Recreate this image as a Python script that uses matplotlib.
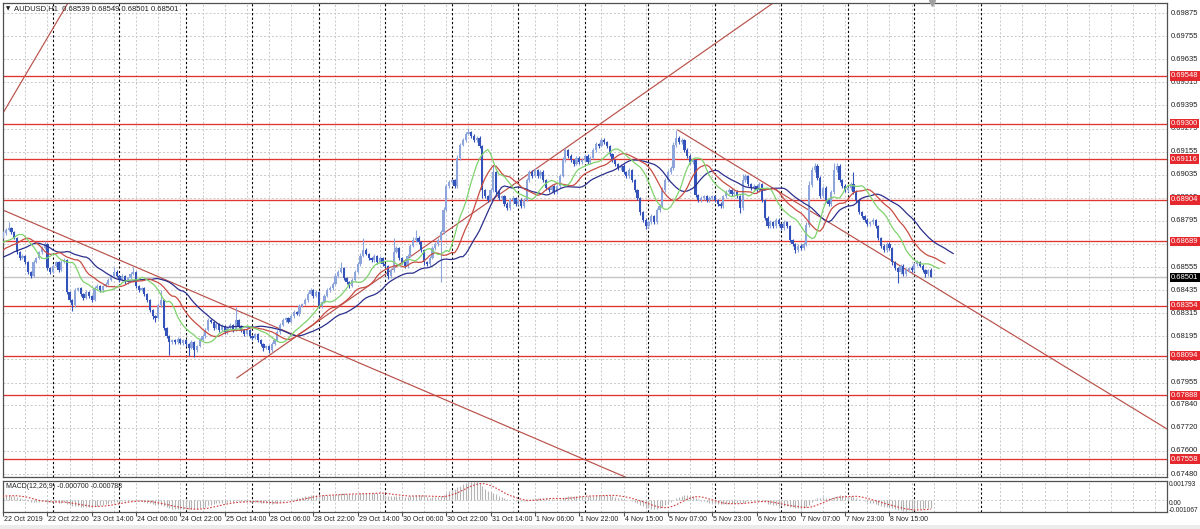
import numpy as np
import pandas as pd
import matplotlib
matplotlib.use("Agg")
import matplotlib.pyplot as plt

plt.rcParams['font.family'] = ['Liberation Sans', 'DejaVu Sans']

# ---------------- data (prices in points, 1 point = 0.00001) ----------------
POINT = 1e-5
pre_close_pts = [68540, 68560, 68530, 68570, 68600, 68580, 68610, 68640, 68620, 68650,
                 68660, 68640, 68680, 68700, 68690, 68710, 68730, 68700, 68720, 68710]

close_pts = [
    68732, 68748, 68758, 68737, 68706, 68633, 68602, 68613, 68581, 68530,
    68509, 68581, 68602, 68633, 68654, 68675, 68550, 68530, 68561, 68581,
    68540, 68581, 68592, 68426, 68384, 68358, 68436, 68446, 68415, 68394,
    68426, 68405, 68384, 68446, 68457, 68436, 68457, 68467, 68488, 68509,
    68530, 68509, 68488, 68509, 68477, 68498, 68519, 68530, 68457, 68436,
    68446, 68415, 68384, 68332, 68301, 68290, 68358, 68384, 68239, 68197,
    68166, 68176, 68166, 68181, 68161, 68176, 68155, 68135, 68166, 68124,
    68145, 68176, 68197, 68228, 68280, 68270, 68239, 68259, 68228, 68249,
    68218, 68239, 68254, 68228, 68280, 68249, 68228, 68207, 68228, 68197,
    68187, 68207, 68176, 68155, 68135, 68145, 68124, 68155, 68176, 68218,
    68254, 68280, 68290, 68270, 68301, 68322, 68311, 68353, 68363, 68384,
    68415, 68436, 68405, 68426, 68353, 68374, 68405, 68436, 68446, 68467,
    68509, 68530, 68550, 68498, 68477, 68457, 68488, 68530, 68571, 68613,
    68644, 68623, 68602, 68592, 68613, 68581, 68602, 68571, 68561, 68509,
    68540, 68633, 68654, 68602, 68581, 68561, 68613, 68665, 68696, 68706,
    68685, 68644, 68581, 68571, 68602, 68654, 68675, 68696, 68737, 68852,
    68976, 68997, 69007, 68976, 69122, 69189, 69215, 69246, 69257, 69236,
    69215, 69226, 69184, 68955, 68924, 68904, 68955, 69049, 68945, 68914,
    68924, 68883, 68862, 68904, 68914, 68883, 68904, 68872, 68904, 69007,
    69049, 69028, 69059, 69028, 69049, 69007, 68966, 68955, 68976, 68945,
    68976, 69028, 69111, 69163, 69132, 69111, 69091, 69122, 69101, 69111,
    69132, 69101, 69122, 69163, 69194, 69184, 69215, 69205, 69184, 69142,
    69111, 69091, 69070, 69080, 69049, 69028, 69059, 69007, 68955, 68914,
    68841, 68800, 68768, 68789, 68820, 68789, 68852, 68872, 68955, 69007,
    69049, 69070, 69189, 69226, 69205, 69215, 69163, 69132, 69101, 69111,
    68930, 68904, 68914, 68924, 68904, 68914, 68924, 68904, 68883, 68872,
    68924, 68945, 68955, 68935, 68945, 68924, 68862, 69007, 69028, 68987,
    68966, 68976, 68955, 68987, 68904, 68810, 68768, 68789, 68768, 68800,
    68779, 68758, 68789, 68768, 68696, 68675, 68644, 68665, 68654, 68675,
    68774, 68981, 69059, 69080, 69018, 68924, 68966, 68904, 68883, 68945,
    69059, 69080, 69007, 68976, 68955, 68966, 68987, 68945, 68904, 68841,
    68820, 68800, 68779, 68789, 68800, 68768, 68706, 68665, 68644, 68675,
    68654, 68581, 68550, 68530, 68561, 68519, 68540, 68550, 68540, 68571,
    68581, 68561, 68540, 68519, 68539, 68501]

upper_wick_pts = [
    8, 12, 31, 6, 5, 4, 7, 10, 5, 6,   4, 9, 6, 8, 10, 15, 5, 6, 9, 7,
    6, 10, 8, 4, 5, 6, 12, 8, 6, 5,    9, 6, 5, 10, 8, 6, 7, 9, 8, 6,
    25, 8, 6, 9, 7, 6, 10, 25, 4, 6,   8, 5, 4, 6, 5, 7, 10, 52, 5, 4,
    6, 8, 5, 9, 6, 7, 5, 4, 8, 5,      7, 9, 8, 10, 12, 6, 5, 9, 6, 8,
    5, 7, 9, 6, 68, 6, 5, 7, 8, 5,     6, 8, 5, 4, 6, 7, 5, 9, 8, 10,
    8, 9, 6, 7, 10, 8, 6, 9, 7, 10,    12, 9, 6, 8, 5, 7, 9, 8, 10, 12,
    14, 10, 31, 6, 5, 7, 9, 12, 10, 14, 62, 8, 6, 7, 10, 6, 9, 7, 5, 6,
    8, 73, 10, 6, 7, 5, 9, 12, 14, 42, 8, 6, 5, 7, 9, 10, 8, 12, 10, 15,
    12, 10, 8, 6, 14, 12, 10, 9, 21, 7, 8, 10, 9, 6, 8, 7, 10, 36, 6, 8,
    7, 6, 9, 8, 10, 7, 6, 9, 8, 12,    10, 8, 12, 7, 9, 8, 6, 7, 9, 6,
    8, 10, 14, 12, 8, 9, 7, 10, 8, 9,  10, 8, 9, 12, 11, 8, 11, 9, 7, 6,
    8, 7, 6, 9, 8, 7, 10, 6, 5, 7,     6, 5, 8, 9, 10, 7, 12, 9, 14, 12,
    10, 12, 16, 41, 10, 12, 8, 9, 10, 8, 7, 6, 9, 8, 7, 10, 8, 6, 7, 9,
    8, 10, 9, 7, 8, 12, 6, 31, 10, 8,  7, 9, 8, 10, 6, 5, 8, 9, 7, 10,
    8, 7, 9, 6, 5, 7, 6, 9, 8, 10,     14, 20, 16, 15, 10, 8, 12, 9, 7, 10,
    36, 15, 10, 8, 9, 7, 12, 60, 8, 6, 5, 7, 9, 8, 10, 6, 5, 7, 9, 8,
    10, 6, 8, 7, 9, 10, 8, 7, 9, 12,   10, 8, 9, 7, 8, 10]

lower_wick_pts = [
    6, 8, 5, 9, 7, 10, 8, 6, 9, 12,    11, 5, 7, 6, 8, 5, 9, 12, 6, 8,
    10, 6, 5, 9, 12, 31, 8, 7, 10, 9,  6, 8, 12, 7, 6, 9, 8, 5, 7, 6,
    8, 7, 9, 6, 10, 8, 7, 5, 9, 8,     6, 10, 9, 12, 14, 20, 6, 8, 10, 12,
    68, 9, 8, 10, 7, 9, 12, 40, 8, 36, 8, 6, 7, 9, 5, 8, 10, 7, 9, 6,
    8, 10, 7, 9, 6, 8, 9, 10, 7, 8,    9, 7, 10, 12, 15, 8, 15, 9, 7, 6,
    8, 7, 9, 6, 8, 10, 7, 9, 6, 5,     8, 7, 9, 6, 12, 8, 7, 6, 9, 8,
    7, 6, 8, 10, 9, 12, 8, 7, 6, 9,    8, 7, 10, 9, 8, 10, 7, 9, 8, 15,
    10, 8, 7, 9, 8, 12, 10, 7, 8, 9,   10, 12, 14, 9, 8, 7, 8, 9, 219, 10,
    8, 9, 10, 12, 8, 9, 7, 8, 6, 9,    8, 10, 9, 40, 12, 10, 8, 9, 10, 8,
    9, 10, 12, 8, 9, 10, 8, 12, 9, 7,  8, 9, 7, 10, 8, 9, 12, 10, 8, 9,
    10, 8, 7, 9, 10, 8, 9, 7, 8, 9,    8, 10, 9, 7, 8, 9, 7, 8, 9, 10,
    8, 9, 10, 8, 9, 10, 8, 9, 10, 12,  14, 12, 15, 10, 9, 12, 8, 9, 7, 8,
    9, 8, 10, 8, 9, 10, 8, 9, 10, 8,   12, 10, 9, 8, 10, 9, 8, 10, 9, 12,
    9, 8, 10, 9, 8, 10, 25, 8, 9, 10,  8, 9, 10, 8, 9, 12, 10, 9, 8, 10,
    9, 8, 10, 9, 12, 10, 14, 12, 10, 12, 10, 9, 8, 10, 12, 9, 8, 10, 12, 9,
    8, 10, 9, 8, 10, 9, 8, 10, 9, 12,  10, 9, 8, 10, 9, 12, 10, 9, 8, 10,
    12, 14, 10, 60, 12, 10, 9, 8, 10, 9, 10, 8, 9, 15, 10, 0]

level_prices = [0.69548, 0.69300, 0.69116, 0.68904, 0.68689, 0.68354, 0.68094, 0.67888, 0.67558]
bid_price = 0.68501
price_grid_labels = ["0.69875", "0.69755", "0.69635", "0.69515", "0.69395", "0.69275", "0.69155",
                     "0.69035", "0.68915", "0.68795", "0.68675", "0.68555", "0.68435", "0.68315",
                     "0.68195", "0.68075", "0.67955", "0.67840", "0.67720", "0.67600", "0.67480"]
time_labels = ["22 Oct 2019", "22 Oct 22:00", "23 Oct 14:00", "24 Oct 06:00", "24 Oct 22:00",
               "25 Oct 14:00", "28 Oct 06:00", "28 Oct 22:00", "29 Oct 14:00", "30 Oct 06:00",
               "30 Oct 22:00", "31 Oct 14:00", "1 Nov 06:00", "1 Nov 22:00", "4 Nov 15:00",
               "5 Nov 07:00", "5 Nov 23:00", "6 Nov 15:00", "7 Nov 07:00", "7 Nov 23:00",
               "8 Nov 15:00"]
time_label_bars = list(range(0, 321, 16))
day_start_bars = [18, 42, 66, 90, 114, 138, 162, 186, 210, 233, 257, 281, 305, 329, 353]
# trend lines: anchor (bar, price) pairs; ext = (extend left, extend right)
trend_lines = [
    ((-1.12, 0.69329), (23.4, 0.69927), (True, True)),
    ((0.0, 0.68851), (224.5, 0.67465), (True, True)),
    ((84.4, 0.67979), (278.0, 0.69927), (False, True)),
    ((243.6, 0.69267), (420.2, 0.67714), (False, True)),
]
header_text = "AUDUSD,H1  0.68539 0.68549 0.68501 0.68501"
macd_text = "MACD(12,26,9) -0.000700 -0.000788"
macd_axis_values = [0.001793, 0.0, -0.001067]
macd_axis_labels = ["0.001793", "0.00", "-0.001067"]

# ---------------- derived series ----------------
N = len(close_pts)
closes = np.array(close_pts) * POINT
opens = np.array([pre_close_pts[-1]] + close_pts[:-1]) * POINT
highs = np.maximum(opens, closes) + np.array(upper_wick_pts) * POINT
lows = np.minimum(opens, closes) - np.array(lower_wick_pts) * POINT
bars = np.arange(N)

PRE = len(pre_close_pts)
median_all = np.concatenate([np.array(pre_close_pts) * POINT, (highs + lows) / 2])
close_all = np.concatenate([np.array(pre_close_pts) * POINT, closes])
x_all = np.arange(len(median_all)) - PRE


def smma(x, n):
    out = np.full(len(x), np.nan)
    out[n - 1] = np.mean(x[:n])
    for i in range(n, len(x)):
        out[i] = (out[i - 1] * (n - 1) + x[i]) / n
    return out

jaws = smma(median_all, 13)
teeth = smma(median_all, 8)
lips = smma(median_all, 5)

cs = pd.Series(close_all)
macd_main = (cs.ewm(span=12, adjust=False).mean() - cs.ewm(span=26, adjust=False).mean()).values
macd_signal = pd.Series(macd_main).rolling(9).mean().values

# ---------------- figure ----------------
W, H = 1200, 529
fig = plt.figure(figsize=(W / 100, H / 100), dpi=100)
fig.patch.set_facecolor('white')

def fx(px):
    return px / W

def fy(py):
    return 1 - py / H

L_PX, R_PX = 3, 1167
ax = fig.add_axes([fx(L_PX), fy(477), fx(R_PX - L_PX), (477 - 3) / H])
axm = fig.add_axes([fx(L_PX), fy(512), fx(R_PX - L_PX), (512 - 481) / H])

XMIN, XMAX = -0.04, 420.2
for a in (ax, axm):
    a.set_xlim(XMIN, XMAX)
    a.set_facecolor('white')
    for s in a.spines.values():
        s.set_color('#505050')
        s.set_linewidth(0.9)
    a.set_yticks([])
    a.tick_params(left=False, right=False)

ax.set_ylim(0.674645, 0.69927)
ax.set_xticks([])

grid_kw = dict(color='#c8c8c8', lw=0.7, ls=(0, (2, 2)), zorder=0)
sep_kw = dict(color='#000000', lw=0.8, ls=(0, (2, 2)), zorder=0.5)

# horizontal grid at label levels
for lab in price_grid_labels:
    ax.axhline(float(lab), **grid_kw)
# vertical grid
for a in (ax, axm):
    for b in range(8, 430, 8):
        a.axvline(b, **grid_kw)
    for b in day_start_bars:
        a.axvline(b, **sep_kw)

# bid line
ax.axhline(bid_price, color='#c4c4c4', lw=1.0, zorder=1)

# horizontal support / resistance lines
for p in level_prices:
    ax.axhline(p, color='#e0352e', lw=0.95, zorder=2)

# trend lines
for (x1, y1), (x2, y2), (el, er) in trend_lines:
    k = (y2 - y1) / (x2 - x1)
    xa = -50 if el else x1
    xb = 500 if er else x2
    ax.plot([xa, xb], [y1 + k * (xa - x1), y1 + k * (xb - x1)], color='#b9504a', lw=0.85, zorder=2)

# candles
bull_c, bear_c = '#8ea5dc', '#3353bb'
up = closes >= opens
dn = ~up
body = np.abs(closes - opens)
body = np.maximum(body, 2 * POINT)
for mask, col in ((up, bull_c), (dn, bear_c)):
    ax.vlines(bars[mask], lows[mask], highs[mask], color=col, lw=0.8, zorder=3)
    ax.bar(bars[mask], body[mask], bottom=np.minimum(opens, closes)[mask], width=0.8,
           color=col, linewidth=0, zorder=3)

# Alligator lines (shifted forward)
ax.plot(x_all + 8, jaws, color='#2b2f8c', lw=0.9, zorder=4)
ax.plot(x_all + 5, teeth, color='#c84c42', lw=0.9, zorder=4)
ax.plot(x_all + 3, lips, color='#7fd36c', lw=0.9, zorder=4)

# right price scale
FS = 5.5
for lab in price_grid_labels:
    ax.annotate(lab, xy=(1, float(lab)), xycoords=('axes fraction', 'data'),
                xytext=(4, 0), textcoords='offset pixels', va='center', ha='left',
                fontsize=FS, color='#202020', annotation_clip=False)
for p in level_prices:
    ax.annotate(f"{p:.5f}", xy=(1, p), xycoords=('axes fraction', 'data'),
                xytext=(4, 0), textcoords='offset pixels', va='center', ha='left',
                fontsize=FS, color='white', annotation_clip=False,
                bbox=dict(boxstyle='square,pad=0.15', fc='#e5282d', ec='none'))
ax.annotate(f"{bid_price:.5f}", xy=(1, bid_price), xycoords=('axes fraction', 'data'),
            xytext=(4, 0), textcoords='offset pixels', va='center', ha='left',
            fontsize=FS, color='white', annotation_clip=False,
            bbox=dict(boxstyle='square,pad=0.15', fc='#000000', ec='none'))

# header
ax.text(3 / (R_PX - L_PX), 1 - 6 / 474, "\u25BC", transform=ax.transAxes,
        fontsize=4, va='center', ha='left', family=['DejaVu Sans'], color='#202020')
ax.text(11 / (R_PX - L_PX), 1 - 6 / 474, header_text, transform=ax.transAxes,
        fontsize=5.5, va='center', ha='left', color='#202020')

# chart shift marker
ax.plot([335.4], [0.69927], marker='v', ms=4, color='#a0a0a0', clip_on=False, zorder=6)

# MACD panel
axm.set_ylim(-0.001067, 0.001793)
axm.axhline(0.0, **grid_kw)
axm.vlines(x_all, 0, macd_main, color='#b4b4b4', lw=0.8, zorder=2)
axm.plot(x_all, macd_signal, color='#d23c3c', lw=0.8, ls=(0, (1.5, 1.5)), zorder=3)
axm.text(3 / (R_PX - L_PX), 1 - 6 / 31, macd_text, transform=axm.transAxes,
         fontsize=5, va='center', ha='left', color='#202020')
macd_label_shift = [-4, -3, 1]   # pixels, keeps the edge labels inside the panel height
for v, lab, dy in zip(macd_axis_values, macd_axis_labels, macd_label_shift):
    axm.annotate(lab, xy=(1, v), xycoords=('axes fraction', 'data'),
                 xytext=(2, dy), textcoords='offset pixels', va='center', ha='left',
                 fontsize=4.8, color='#202020', annotation_clip=False)

# time axis
axm.set_xticks(time_label_bars)
axm.set_xticklabels([])
axm.tick_params(axis='x', direction='out', length=3, color='#505050')
for b, lab in zip(time_label_bars, time_labels):
    axm.annotate(lab, xy=(b, 0), xycoords=('data', 'axes fraction'),
                 xytext=(1, -4), textcoords='offset pixels', va='top', ha='left',
                 fontsize=5, color='#202020', annotation_clip=False)

# status strip
fig.patches.append(plt.Rectangle((0, 0), 1, 4 / H, transform=fig.transFigure,
                                 fc='#ececec', ec='none'))

fig.savefig('out.png', dpi=100)
